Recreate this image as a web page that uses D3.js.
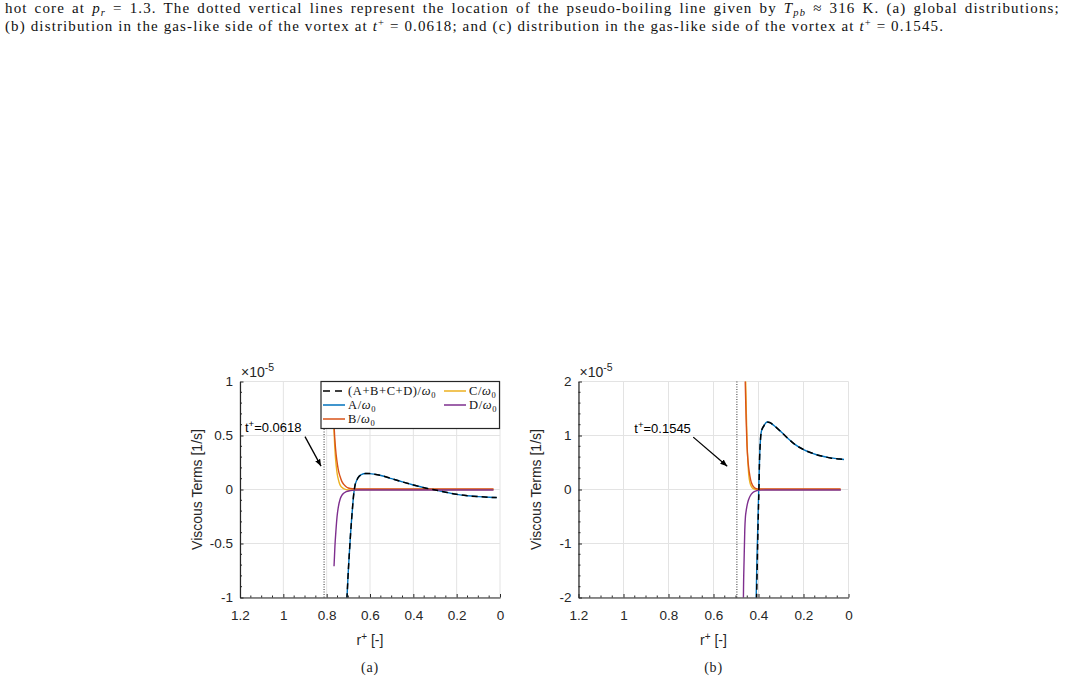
<!DOCTYPE html>
<html><head><meta charset="utf-8">
<script src="https://cdn.jsdelivr.net/npm/d3@7"></script>
<style>body{margin:0;background:#fff}svg{display:block}</style>
</head><body>
<svg id="c" width="1065" height="681"></svg>
<script>
// ---------- data ----------
const xTicks = [1.2, 1, 0.8, 0.6, 0.4, 0.2, 0];
const yTicksA = [-1, -0.5, 0, 0.5, 1];
const yTicksB = [-2, -1, 0, 1, 2];
const yTickLabelsA = ["-1", "-0.5", "0", "0.5", "1"];
const yTickLabelsB = ["-2", "-1", "0", "1", "2"];
const seriesNames = ["(A+B+C+D)/ω0", "A/ω0", "B/ω0", "C/ω0", "D/ω0"];

// panel (a): [r+, value x1e-5]
const aTotal = [[0.712,-1.2],[0.705,-0.95],[0.70,-0.75],[0.695,-0.58],[0.69,-0.42],[0.685,-0.28],[0.68,-0.15],[0.675,-0.04],[0.67,0.03],[0.66,0.09],[0.65,0.122],[0.64,0.138],[0.62,0.148],[0.60,0.147],[0.58,0.142],[0.55,0.13],[0.50,0.10],[0.45,0.07],[0.40,0.042],[0.35,0.016],[0.31,0.0],[0.25,-0.025],[0.20,-0.045],[0.15,-0.058],[0.10,-0.066],[0.05,-0.072],[0.015,-0.075]];
const aA = aTotal;
const aB = [[0.773,1.3],[0.769,0.8],[0.765,0.56],[0.759,0.38],[0.753,0.27],[0.746,0.18],[0.738,0.12],[0.73,0.075],[0.72,0.045],[0.71,0.025],[0.70,0.014],[0.68,0.007],[0.65,0.005],[0.03,0.005]];
const aC = [[0.773,1.3],[0.769,0.75],[0.765,0.5],[0.761,0.34],[0.756,0.22],[0.751,0.14],[0.745,0.085],[0.74,0.05],[0.73,0.02],[0.72,0.005],[0.70,-0.004],[0.68,-0.004],[0.65,0.0],[0.03,0.0]];
const aD = [[0.766,-0.71],[0.762,-0.53],[0.757,-0.375],[0.752,-0.25],[0.746,-0.16],[0.738,-0.09],[0.73,-0.055],[0.723,-0.037],[0.71,-0.02],[0.69,-0.01],[0.67,-0.006],[0.65,-0.005],[0.03,-0.005]];
const aPseudo = 0.812;

// panel (b)
const bTotal = [[0.411,-2.6],[0.406,-1.5],[0.401,-0.5],[0.398,0.0],[0.395,0.6],[0.387,1.08],[0.376,1.18],[0.362,1.25],[0.35,1.24],[0.33,1.18],[0.30,1.07],[0.27,0.95],[0.24,0.84],[0.20,0.74],[0.16,0.67],[0.12,0.62],[0.08,0.585],[0.04,0.565],[0.02,0.555]];
const bA = [[0.413,-2.6],[0.408,-1.5],[0.402,-0.5],[0.399,0.0],[0.395,0.6],[0.387,1.08],[0.376,1.18],[0.362,1.25],[0.35,1.24],[0.33,1.18],[0.30,1.07],[0.27,0.95],[0.24,0.84],[0.20,0.74],[0.16,0.67],[0.12,0.62],[0.08,0.585],[0.04,0.565],[0.02,0.555]];
const bB = [[0.462,2.6],[0.459,2.0],[0.455,1.3],[0.451,0.8],[0.446,0.5],[0.441,0.32],[0.435,0.18],[0.428,0.09],[0.42,0.04],[0.41,0.016],[0.40,0.01],[0.035,0.01]];
const bC = [[0.460,2.6],[0.457,2.0],[0.454,1.4],[0.451,0.9],[0.447,0.5],[0.443,0.26],[0.438,0.13],[0.432,0.06],[0.425,0.02],[0.415,0.005],[0.40,0.0],[0.035,0.0]];
const bD = [[0.468,-2.6],[0.467,-2.0],[0.464,-1.3],[0.461,-0.75],[0.458,-0.5],[0.455,-0.4],[0.45,-0.28],[0.445,-0.2],[0.437,-0.12],[0.425,-0.055],[0.41,-0.024],[0.39,-0.012],[0.37,-0.01],[0.034,-0.01]];
const bPseudo = 0.496;

const annA = {text:"0.0618", tx:1.177, ty:0.57, x1:0.90, y1:0.49, x2:0.826, y2:0.216};
const annB = {text:"0.1545", tx:0.952, ty:1.135, x1:0.69, y1:0.97, x2:0.539, y2:0.43};

// ---------- drawing ----------
const svg = d3.select("#c");
const colors = {total:"#000", A:"#0072BD", B:"#D95319", C:"#EDB120", D:"#7E2F8E"};
const sans = "'Liberation Sans', Arial, sans-serif";
const serif = "'Liberation Serif', 'Times New Roman', serif";

svg.append("defs").append("marker").attr("id","arr").attr("viewBox","0 0 10 10")
  .attr("refX",10).attr("refY",5).attr("markerWidth",7).attr("markerHeight",7)
  .attr("orient","auto").attr("markerUnits","userSpaceOnUse")
  .append("path").attr("d","M0,1 L10,5 L0,9 Z").attr("fill","#000");

// caption
function caption(y, parts, fs){
  const t = svg.append("text").attr("x",5).attr("y",y).attr("font-family",serif).attr("font-size",fs).attr("fill","#111");
  parts.forEach(p=>{
    const s = t.append("tspan").text(p.t);
    if(p.i) s.attr("font-style","italic");
    if(p.sub){ s.attr("dy",3).attr("font-size",fs*0.7); }
    if(p.sup){ s.attr("dy",-5).attr("font-size",fs*0.7); }
    if(p.back){ s.attr("dy",p.back); }
  });
  return t;
}
const cap1 = [{t:"hot core at "},{t:"p",i:1},{t:"r",i:1,sub:1},{t:" = 1.3.  The dotted vertical lines represent the location of the pseudo-boiling line given by ",back:-3},{t:"T",i:1},{t:"pb",i:1,sub:1},{t:" ≈ 316 K. (a) global distributions;",back:-3}];
const cap2 = [{t:"(b) distribution in the gas-like side of the vortex at "},{t:"t",i:1},{t:"+",sup:1},{t:" = 0.0618; and (c) distribution in the gas-like side of the vortex at ",back:5},{t:"t",i:1},{t:"+",sup:1},{t:" = 0.1545.",back:5}];
const capFs = 15;
const c2 = caption(31, cap2, capFs);
const n2 = c2.text().length;
const ls = (939 - c2.node().getComputedTextLength())/n2;
c2.attr("letter-spacing", ls);
const c1 = caption(13, cap1, capFs).attr("letter-spacing", ls);
const w1 = c1.node().getComputedTextLength();
const nSp = (c1.text().match(/ /g)||[]).length;
c1.attr("word-spacing", Math.max(0,(1057-w1)/nSp));

function panel(o){
  const g = svg.append("g");
  const x = d3.scaleLinear().domain([1.2,0]).range([o.x0,o.x1]);
  const y = d3.scaleLinear().domain(o.ydom).range([o.y1,o.y0]);
  const clipId = "clip"+o.id;
  svg.select("defs").append("clipPath").attr("id",clipId).append("rect")
    .attr("x",o.x0).attr("y",o.y0).attr("width",o.x1-o.x0).attr("height",o.y1-o.y0);
  // grid
  g.selectAll(".gx").data(xTicks).enter().append("line").attr("x1",d=>x(d)).attr("x2",d=>x(d))
    .attr("y1",o.y0).attr("y2",o.y1).attr("stroke","#e3e3e3").attr("stroke-width",1);
  g.selectAll(".gy").data(o.yticks).enter().append("line").attr("y1",d=>y(d)).attr("y2",d=>y(d))
    .attr("x1",o.x0).attr("x2",o.x1).attr("stroke","#e3e3e3").attr("stroke-width",1);
  // pseudo-boiling line
  g.append("line").attr("x1",x(o.pseudo)).attr("x2",x(o.pseudo)).attr("y1",o.y0).attr("y2",o.y1)
    .attr("stroke","#333").attr("stroke-width",1).attr("stroke-dasharray","1,1.5");
  // curves
  const line = d3.line().x(d=>x(d[0])).y(d=>y(d[1])).curve(d3.curveMonotoneX);
  const cg = g.append("g").attr("clip-path",`url(#${clipId})`);
  [[o.A,colors.A],[o.C,colors.C],[o.B,colors.B],[o.D,colors.D]].forEach(([d,c])=>{
    cg.append("path").datum(d).attr("d",line).attr("fill","none").attr("stroke",c).attr("stroke-width",1.4);
  });
  cg.append("path").datum(o.total).attr("d",line).attr("fill","none").attr("stroke","#000")
    .attr("stroke-width",1.5).attr("stroke-dasharray","6,4");
  // axes
  const xa = g.append("g").attr("transform",`translate(0,${o.y1})`)
    .call(d3.axisBottom(x).tickValues(xTicks).tickFormat(d3.format("")).tickSizeInner(-3.5).tickSizeOuter(0).tickPadding(13));
  const ya = g.append("g").attr("transform",`translate(${o.x0},0)`)
    .call(d3.axisLeft(y).tickValues(o.yticks).tickFormat((d,i)=>o.ylabels[i]).tickSizeInner(-3.5).tickSizeOuter(0).tickPadding(7));
  // minor ticks
  const xm = d3.range(0,1.2001,0.05).filter(v=>!xTicks.some(t=>Math.abs(t-v)<1e-6));
  g.selectAll(".mx").data(xm).enter().append("line").attr("x1",d=>x(d)).attr("x2",d=>x(d))
    .attr("y1",o.y1).attr("y2",o.y1-2).attr("stroke","#262626");
  const ym = d3.range(o.ydom[0],o.ydom[1]+1e-9,o.ystep).filter(v=>!o.yticks.some(t=>Math.abs(t-v)<1e-6));
  g.selectAll(".my").data(ym).enter().append("line").attr("y1",d=>y(d)).attr("y2",d=>y(d))
    .attr("x1",o.x0).attr("x2",o.x0+2).attr("stroke","#262626");
  [xa,ya].forEach(a=>{
    a.selectAll("path").attr("stroke","#262626").attr("stroke-width",1.2);
    a.selectAll("line").attr("stroke","#262626");
    a.selectAll("text").attr("font-family",sans).attr("font-size",13.5).attr("fill","#262626");
  });
  // exponent label
  const ex = g.append("text").attr("x",o.x0+1).attr("y",o.y0-5).attr("font-family",sans).attr("font-size",14).attr("fill","#262626");
  ex.append("tspan").text("×10");
  ex.append("tspan").attr("dy",-6).attr("font-size",10.5).text("-5");
  // axis labels
  g.append("text").attr("transform",`translate(${o.x0-38},${(o.y0+o.y1)/2}) rotate(-90)`)
    .attr("text-anchor","middle").attr("font-family",sans).attr("font-size",14).attr("fill","#262626").text("Viscous Terms [1/s]");
  const xl = g.append("text").attr("x",(o.x0+o.x1)/2).attr("y",o.y1+47).attr("text-anchor","middle")
    .attr("font-family",sans).attr("font-size",14).attr("fill","#262626");
  xl.append("tspan").text("r");
  xl.append("tspan").attr("dy",-5).attr("font-size",10).text("+");
  xl.append("tspan").attr("dy",5).text(" [-]");
  g.append("text").attr("x",(o.x0+o.x1)/2).attr("y",o.y1+74).attr("text-anchor","middle")
    .attr("font-family",serif).attr("font-size",14).attr("letter-spacing",0.8).attr("fill","#222").text(o.sub);
  // annotation
  const a = o.ann;
  const at = g.append("text").attr("x",x(a.tx)).attr("y",y(a.ty)+4.5).attr("font-family",sans).attr("font-size",13).attr("fill","#000");
  at.append("tspan").text("t");
  at.append("tspan").attr("dy",-5).attr("font-size",9.5).text("+");
  at.append("tspan").attr("dy",5).text("="+a.text);
  g.append("line").attr("x1",x(a.x1)).attr("y1",y(a.y1)).attr("x2",x(a.x2)).attr("y2",y(a.y2))
    .attr("stroke","#000").attr("stroke-width",1.3).attr("marker-end","url(#arr)");
  return {g,x,y};
}

const pa = panel({id:"a",x0:240,x1:500,y0:381.5,y1:597.5,ydom:[-1,1],yticks:yTicksA,ylabels:yTickLabelsA,ystep:0.1,
  pseudo:aPseudo,total:aTotal,A:aA,B:aB,C:aC,D:aD,ann:annA,sub:"(a)"});
const pb = panel({id:"b",x0:578.5,x1:848.5,y0:381.5,y1:597.5,ydom:[-2,2],yticks:yTicksB,ylabels:yTickLabelsB,ystep:0.2,
  pseudo:bPseudo,total:bTotal,A:bA,B:bB,C:bC,D:bD,ann:annB,sub:"(b)"});

// legend in panel (a)
const lg = svg.append("g");
lg.append("rect").attr("x",321).attr("y",381.5).attr("width",178.5).attr("height",47)
  .attr("fill","#fff").attr("stroke","#262626").attr("stroke-width",1.2);
const legItems = [
  {name:seriesNames[0],c:colors.total,dash:"7,5",x:323,y:391},
  {name:seriesNames[1],c:colors.A,x:323,y:405},
  {name:seriesNames[2],c:colors.B,x:323,y:419},
  {name:seriesNames[3],c:colors.C,x:444,y:391},
  {name:seriesNames[4],c:colors.D,x:444,y:405}
];
legItems.forEach(it=>{
  lg.append("line").attr("x1",it.x).attr("x2",it.x+22).attr("y1",it.y).attr("y2",it.y)
    .attr("stroke",it.c).attr("stroke-width",1.5).attr("stroke-dasharray",it.dash||null);
  const t = lg.append("text").attr("x",it.x+25).attr("y",it.y+4).attr("font-family",serif).attr("font-size",12.5)
    .attr("letter-spacing",0.6).attr("fill","#111");
  const base = it.name.slice(0,-2);
  t.append("tspan").text(base);
  t.append("tspan").attr("font-style","italic").text("ω");
  t.append("tspan").attr("dy",2.5).attr("font-size",8.5).text("0");
});
</script>
</body></html>
